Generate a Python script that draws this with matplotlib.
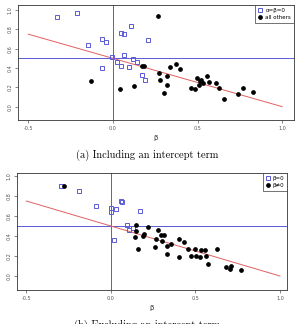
import matplotlib
matplotlib.use("Agg")
import matplotlib.pyplot as plt

# panel (a): with intercept
a_zero_x = [-0.33, -0.21, -0.15, -0.065, -0.04, -0.065, -0.005, 0.025, 0.045, 0.045,
            0.067, 0.106, 0.065, 0.094, 0.118, 0.142, 0.173, 0.189, 0.207]
a_zero_y = [0.93, 0.97, 0.64, 0.70, 0.67, 0.40, 0.51, 0.46, 0.42, 0.76,
            0.755, 0.83, 0.53, 0.41, 0.49, 0.46, 0.33, 0.28, 0.69]
a_other_x = [-0.13, 0.043, 0.124, 0.171, 0.183, 0.268, 0.27, 0.278, 0.301, 0.319,
             0.319, 0.335, 0.374, 0.398, 0.459, 0.484, 0.496, 0.51, 0.516, 0.522,
             0.535, 0.557, 0.565, 0.612, 0.626, 0.657, 0.74, 0.771, 0.825]
a_other_y = [0.27, 0.18, 0.21, 0.42, 0.42, 0.94, 0.345, 0.28, 0.14, 0.32,
             0.22, 0.41, 0.44, 0.39, 0.19, 0.18, 0.30, 0.22, 0.27, 0.28,
             0.25, 0.32, 0.255, 0.25, 0.19, 0.08, 0.13, 0.19, 0.15]

# panel (b): without intercept
b_zero_x = [-0.294, -0.188, -0.089, 0.0, 0.0, 0.032, 0.059, 0.069, 0.17, 0.095,
            0.105, 0.13, 0.02]
b_zero_y = [0.90, 0.85, 0.70, 0.68, 0.645, 0.67, 0.755, 0.74, 0.655, 0.515,
            0.465, 0.48, 0.36]
b_other_x = [-0.276, 0.146, 0.146, 0.14, 0.218, 0.163, 0.189, 0.197, 0.278, 0.268,
             0.264, 0.299, 0.317, 0.305, 0.331, 0.357, 0.333, 0.404, 0.43, 0.406,
             0.455, 0.476, 0.5, 0.504, 0.526, 0.535, 0.555, 0.565, 0.575, 0.63,
             0.68, 0.703, 0.711, 0.768]
b_other_y = [0.90, 0.51, 0.45, 0.39, 0.49, 0.27, 0.40, 0.42, 0.46, 0.37,
             0.29, 0.41, 0.41, 0.355, 0.30, 0.325, 0.22, 0.375, 0.34, 0.195,
             0.27, 0.205, 0.275, 0.205, 0.19, 0.265, 0.265, 0.205, 0.125, 0.27,
             0.09, 0.07, 0.105, 0.065]

fit_x = [-0.5, 1.0]
fit_y = [0.75, 0.0]

xticks = [-0.5, 0.0, 0.5, 1.0]
yticks = [0.0, 0.2, 0.4, 0.6, 0.8, 1.0]

BLUE = "#5a5ad6"
RED = "#e06060"

fig = plt.figure(figsize=(2.95, 3.24), dpi=100)


def panel(rect, xlim, ylim, zx, zy, ox, oy, labels, ylabel=None):
    ax = fig.add_axes(rect)
    ax.axhline(0.5, color=BLUE, lw=0.7, zorder=1)
    ax.axvline(0.0, color=BLUE, lw=0.7, zorder=1)
    ax.plot(fit_x, fit_y, color=RED, lw=0.7, zorder=2)
    ax.plot(zx, zy, ls="none", marker="s", ms=3.2, mfc="none", mec=BLUE,
            mew=0.7, label=labels[0], zorder=3)
    ax.plot(ox, oy, ls="none", marker="o", ms=2.4, color="black",
            label=labels[1], zorder=3)
    ax.set_xlim(*xlim)
    ax.set_ylim(*ylim)
    ax.set_xticks(xticks)
    ax.set_xticklabels(["-0.5", "0.0", "0.5", "1.0"])
    ax.set_yticks(yticks)
    ax.set_yticklabels([f"{v:.1f}" for v in yticks], rotation=90, va="center")
    ax.tick_params(labelsize=3.5, length=2, width=0.5, pad=2, colors="#555555")
    for s in ax.spines.values():
        s.set_linewidth(0.6)
        s.set_color("#333333")
    ax.set_xlabel("β", fontsize=5, labelpad=3, color="#333333")
    if ylabel:
        ax.set_ylabel(ylabel, fontsize=5, labelpad=6)
    leg = ax.legend(loc="upper right", fontsize=4, frameon=True, fancybox=False,
                    borderaxespad=0.0, handlelength=0.8, handletextpad=0.5,
                    borderpad=0.5, labelspacing=0.4)
    leg.get_frame().set_linewidth(0.6)
    leg.get_frame().set_edgecolor("#333333")
    return ax


panel([18 / 295, 1 - 120 / 324, 276 / 295, 115 / 324], (-0.561, 1.07), (-0.138, 1.052),
      a_zero_x, a_zero_y, a_other_x, a_other_y, ["α=β=0", "all others"], ylabel="α")
panel([17 / 295, 1 - 290 / 324, 270 / 295, 117 / 324], (-0.555, 1.042), (-0.14, 1.03),
      b_zero_x, b_zero_y, b_other_x, b_other_y, ["β=0", "β≠0"])

fig.text(0.5, 1 - 155 / 324, "(a) Including an intercept term", ha="center", va="center",
         fontsize=7.5, family="cmr10")
fig.text(0.5, -0.004, "(b) Excluding an intercept term", ha="center", va="center",
         fontsize=7.5, family="cmr10")

fig.savefig("out.png", dpi=100)
